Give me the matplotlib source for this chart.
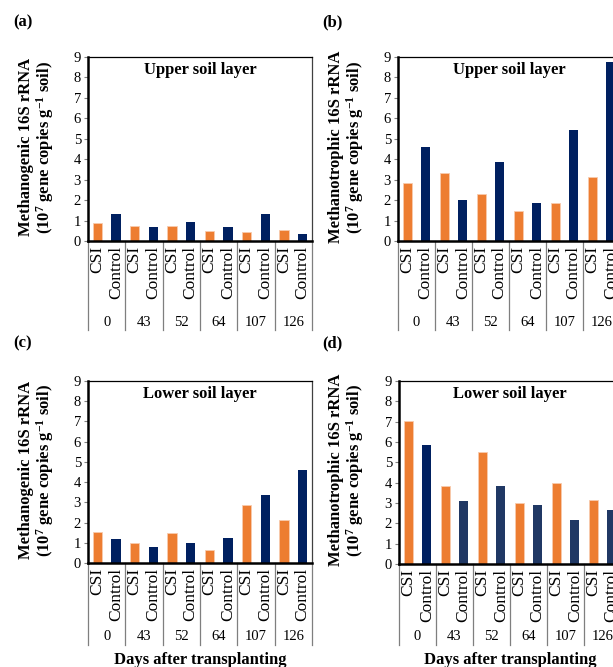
import matplotlib.pyplot as plt
from matplotlib.lines import Line2D

plt.rcParams['font.family'] = ['Liberation Serif', 'DejaVu Serif']
plt.rcParams['mathtext.fontset'] = 'custom'
plt.rcParams['mathtext.rm'] = 'Liberation Serif:bold'
plt.rcParams['mathtext.it'] = 'Liberation Serif:bold'
plt.rcParams['mathtext.bf'] = 'Liberation Serif:bold'

# data (10^7 gene copies per g soil)
days = ['0', '43', '52', '64', '107', '126']
treatments = ['CSI', 'Control']

mg_upper_csi = [0.88, 0.72, 0.72, 0.49, 0.43, 0.54]
mg_upper_ctrl = [1.33, 0.67, 0.93, 0.67, 1.33, 0.33]
mt_upper_csi = [2.83, 3.32, 2.32, 1.46, 1.85, 3.13]
mt_upper_ctrl = [4.62, 2.00, 3.86, 1.87, 5.43, 8.74]
mg_lower_csi = [1.53, 0.97, 1.46, 0.66, 2.87, 2.15]
mg_lower_ctrl = [1.20, 0.80, 0.97, 1.25, 3.38, 4.60]
mt_lower_csi = [7.04, 3.86, 5.53, 3.02, 3.99, 3.14]
mt_lower_ctrl = [5.83, 3.12, 3.86, 2.92, 2.18, 2.68]

ORANGE = '#ED7D31'
NAVY = '#002060'
NAVY2 = '#203864'

W, H = 613, 667
fig = plt.figure(figsize=(W / 100, H / 100), dpi=100)


def add_px_axes(left, top, right, bottom):
    return fig.add_axes([left / W, 1 - bottom / H, (right - left) / W, (bottom - top) / H])


def panel(ax, top, bottom, csi, ctrl, title, ylabel, ctrl_colors, cat_end, xlabel=False):
    n = len(days)
    xs_csi = [2 * i for i in range(n)]
    xs_ctrl = [2 * i + 1 for i in range(n)]
    ax.bar(xs_csi, csi, width=0.5, color=ORANGE, edgecolor='#F8CBAD', linewidth=0.6)
    ax.bar(xs_ctrl, ctrl, width=0.5, color=ctrl_colors, linewidth=0)
    ax.set_xlim(-0.5, 2 * n - 0.5)
    ax.set_ylim(0, 9)
    ax.set_yticks(range(10))
    ax.set_xticks([])
    ax.tick_params(axis='y', length=3, width=0.8, color='#808080', pad=2, labelsize=10.5)
    ax.spines['left'].set_linewidth(1.8)
    ax.spines['bottom'].set_linewidth(1.8)
    ax.spines['top'].set_linewidth(0.9)
    ax.spines['right'].set_linewidth(0.9)
    ax.spines['right'].set_color('#404040')

    hpx = bottom - top
    frac = lambda y: -(y - bottom) / hpx
    tr = ax.get_xaxis_transform()
    for i in range(n + 1):
        ax.add_line(Line2D([2 * i - 0.5] * 2, [0, frac(cat_end)], transform=tr,
                           color='#7F7F7F', lw=0.9, clip_on=False))
    for i in range(n):
        for j, t in enumerate(treatments):
            ax.text(2 * i + j, frac(bottom + 5), t, transform=tr, rotation=90,
                    ha='center', va='top', fontsize=12.5)
        ax.text(2 * i + 0.5, frac(cat_end - 8), days[i], transform=tr,
                ha='center', va='center', fontsize=10.5)

    ax.text(0.5, frac(top + 13), title, transform=ax.transAxes, ha='center',
            va='center', fontsize=12, fontweight='bold')
    if xlabel:
        ax.text(0.5, frac(660), 'Days after transplanting', transform=ax.transAxes,
                ha='center', va='center', fontsize=12, fontweight='bold')


lab_mg = 'Methanogenic 16S rRNA\n(10$^{7}$ gene copies g$^{-1}$ soil)'
lab_mt = 'Methanotrophic 16S rRNA\n(10$^{7}$ gene copies g$^{-1}$ soil)'

ax_a = add_px_axes(88, 57, 312, 241)
panel(ax_a, 57, 241, mg_upper_csi, mg_upper_ctrl, 'Upper soil layer', lab_mg,
      [NAVY] * 6, 330)
ax_b = add_px_axes(398, 57, 620, 241)
panel(ax_b, 57, 241, mt_upper_csi, mt_upper_ctrl, 'Upper soil layer', lab_mt,
      [NAVY] * 6, 330)
ax_c = add_px_axes(88, 381, 312, 563)
panel(ax_c, 381, 563, mg_lower_csi, mg_lower_ctrl, 'Lower soil layer', lab_mg,
      [NAVY] * 6, 645, xlabel=True)
ax_d = add_px_axes(399, 381, 621, 564)
panel(ax_d, 381, 564, mt_lower_csi, mt_lower_ctrl, 'Lower soil layer', lab_mt,
      [NAVY] + [NAVY2] * 5, 645, xlabel=True)

# y labels and panel letters in figure pixels
for x, y, s in [(37, 147, lab_mg), (347, 147, lab_mt), (37, 470, lab_mg), (347, 470, lab_mt)]:
    fig.text(x / W, 1 - y / H, s, rotation=90, ha='center', va='center',
             fontsize=12, fontweight='bold', linespacing=1.05)
for x, y, s in [(13, 22, '(a)'), (322, 22, '(b)'), (13, 343, '(c)'), (322, 343, '(d)')]:
    fig.text(x / W, 1 - y / H, s, ha='left', va='center', fontsize=12, fontweight='bold')

fig.savefig('out.png', dpi=100)
